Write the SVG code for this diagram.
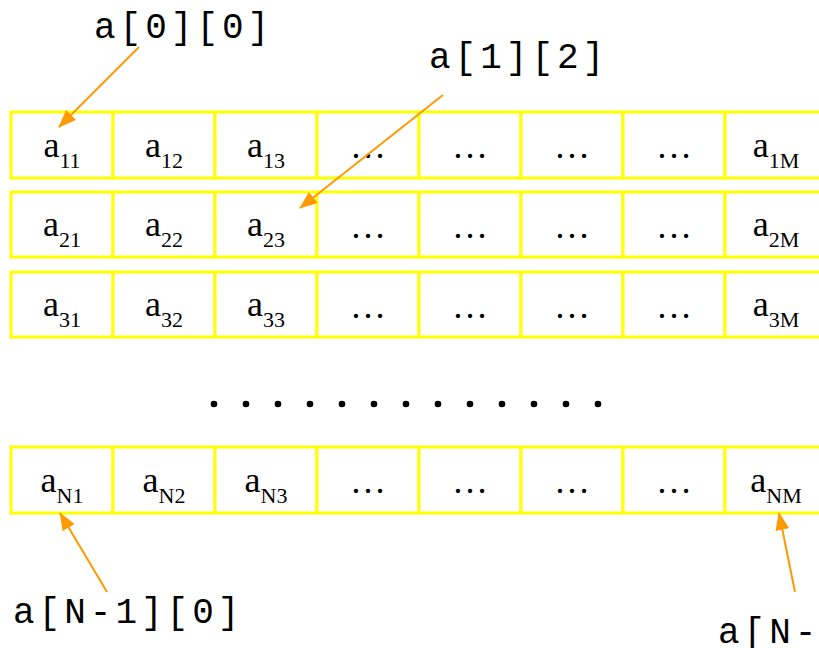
<svg xmlns="http://www.w3.org/2000/svg" width="819" height="648" viewBox="0 0 819 648">
  <style>
    .cell rect { fill: #FFFFFF; stroke: #FFFF00; stroke-width: 3; }
    .cell text { font-family: "Liberation Serif", "Times New Roman", serif; font-size: 36px; fill: #000000; text-anchor: middle; }
    .cell .sub { font-size: 22px; }
    .label { font-family: "Liberation Mono", "Courier New", monospace; font-size: 36px; letter-spacing: 4px; fill: #000000; }
    .arrow { stroke: #FF9900; stroke-width: 2; fill: none; marker-end: url(#head); }
    .dot { fill: #000000; }
  </style>
  <defs>
    <marker id="head" viewBox="0 0 18 14" refX="17" refY="7" markerWidth="18" markerHeight="14" markerUnits="userSpaceOnUse" orient="auto">
      <path d="M0,0 L18,7 L0,14 Z" fill="#FF9900"/>
    </marker>
  </defs>
  <rect width="819" height="648" fill="#FFFFFF"/>

  <!-- row 1 -->
  <g id="row1">
    <g id="cell-1-1" class="cell"><rect x="11" y="112" width="102" height="66"/><text x="62" y="156.5">a<tspan class="sub" dy="11">11</tspan></text></g>
    <g id="cell-1-2" class="cell"><rect x="113" y="112" width="102" height="66"/><text x="164" y="156.5">a<tspan class="sub" dy="11">12</tspan></text></g>
    <g id="cell-1-3" class="cell"><rect x="215" y="112" width="102" height="66"/><text x="266" y="156.5">a<tspan class="sub" dy="11">13</tspan></text></g>
    <g id="cell-1-4" class="cell"><rect x="317" y="112" width="102" height="66"/><text x="368" y="158">…</text></g>
    <g id="cell-1-5" class="cell"><rect x="419" y="112" width="102" height="66"/><text x="470" y="158">…</text></g>
    <g id="cell-1-6" class="cell"><rect x="521" y="112" width="102" height="66"/><text x="572" y="158">…</text></g>
    <g id="cell-1-7" class="cell"><rect x="623" y="112" width="102" height="66"/><text x="674" y="158">…</text></g>
    <g id="cell-1-M" class="cell"><rect x="725" y="112" width="102" height="66"/><text x="776" y="156.5">a<tspan class="sub" dy="11">1M</tspan></text></g>
  </g>

  <!-- row 2 -->
  <g id="row2">
    <g id="cell-2-1" class="cell"><rect x="11" y="192" width="102" height="65"/><text x="62" y="236">a<tspan class="sub" dy="11">21</tspan></text></g>
    <g id="cell-2-2" class="cell"><rect x="113" y="192" width="102" height="65"/><text x="164" y="236">a<tspan class="sub" dy="11">22</tspan></text></g>
    <g id="cell-2-3" class="cell"><rect x="215" y="192" width="102" height="65"/><text x="266" y="236">a<tspan class="sub" dy="11">23</tspan></text></g>
    <g id="cell-2-4" class="cell"><rect x="317" y="192" width="102" height="65"/><text x="368" y="238">…</text></g>
    <g id="cell-2-5" class="cell"><rect x="419" y="192" width="102" height="65"/><text x="470" y="238">…</text></g>
    <g id="cell-2-6" class="cell"><rect x="521" y="192" width="102" height="65"/><text x="572" y="238">…</text></g>
    <g id="cell-2-7" class="cell"><rect x="623" y="192" width="102" height="65"/><text x="674" y="238">…</text></g>
    <g id="cell-2-M" class="cell"><rect x="725" y="192" width="102" height="65"/><text x="776" y="236">a<tspan class="sub" dy="11">2M</tspan></text></g>
  </g>

  <!-- row 3 -->
  <g id="row3">
    <g id="cell-3-1" class="cell"><rect x="11" y="272" width="102" height="65"/><text x="62" y="316">a<tspan class="sub" dy="11">31</tspan></text></g>
    <g id="cell-3-2" class="cell"><rect x="113" y="272" width="102" height="65"/><text x="164" y="316">a<tspan class="sub" dy="11">32</tspan></text></g>
    <g id="cell-3-3" class="cell"><rect x="215" y="272" width="102" height="65"/><text x="266" y="316">a<tspan class="sub" dy="11">33</tspan></text></g>
    <g id="cell-3-4" class="cell"><rect x="317" y="272" width="102" height="65"/><text x="368" y="318">…</text></g>
    <g id="cell-3-5" class="cell"><rect x="419" y="272" width="102" height="65"/><text x="470" y="318">…</text></g>
    <g id="cell-3-6" class="cell"><rect x="521" y="272" width="102" height="65"/><text x="572" y="318">…</text></g>
    <g id="cell-3-7" class="cell"><rect x="623" y="272" width="102" height="65"/><text x="674" y="318">…</text></g>
    <g id="cell-3-M" class="cell"><rect x="725" y="272" width="102" height="65"/><text x="776" y="316">a<tspan class="sub" dy="11">3M</tspan></text></g>
  </g>

  <!-- vertical ellipsis between rows -->
  <g id="row-gap">
    <circle class="dot" cx="214" cy="404" r="3.3"/>
    <circle class="dot" cx="246" cy="404" r="3.3"/>
    <circle class="dot" cx="278" cy="404" r="3.3"/>
    <circle class="dot" cx="310" cy="404" r="3.3"/>
    <circle class="dot" cx="342" cy="404" r="3.3"/>
    <circle class="dot" cx="374" cy="404" r="3.3"/>
    <circle class="dot" cx="406" cy="404" r="3.3"/>
    <circle class="dot" cx="438" cy="404" r="3.3"/>
    <circle class="dot" cx="470" cy="404" r="3.3"/>
    <circle class="dot" cx="502" cy="404" r="3.3"/>
    <circle class="dot" cx="534" cy="404" r="3.3"/>
    <circle class="dot" cx="566" cy="404" r="3.3"/>
    <circle class="dot" cx="598" cy="404" r="3.3"/>
  </g>

  <!-- row N -->
  <g id="rowN">
    <g id="cell-N-1" class="cell"><rect x="11" y="447" width="102" height="66"/><text x="62" y="491.5">a<tspan class="sub" dy="11">N1</tspan></text></g>
    <g id="cell-N-2" class="cell"><rect x="113" y="447" width="102" height="66"/><text x="164" y="491.5">a<tspan class="sub" dy="11">N2</tspan></text></g>
    <g id="cell-N-3" class="cell"><rect x="215" y="447" width="102" height="66"/><text x="266" y="491.5">a<tspan class="sub" dy="11">N3</tspan></text></g>
    <g id="cell-N-4" class="cell"><rect x="317" y="447" width="102" height="66"/><text x="368" y="493">…</text></g>
    <g id="cell-N-5" class="cell"><rect x="419" y="447" width="102" height="66"/><text x="470" y="493">…</text></g>
    <g id="cell-N-6" class="cell"><rect x="521" y="447" width="102" height="66"/><text x="572" y="493">…</text></g>
    <g id="cell-N-7" class="cell"><rect x="623" y="447" width="102" height="66"/><text x="674" y="493">…</text></g>
    <g id="cell-N-M" class="cell"><rect x="725" y="447" width="102" height="66"/><text x="776" y="491.5">a<tspan class="sub" dy="11">NM</tspan></text></g>
  </g>

  <!-- index labels -->
  <g id="label-00"><text class="label" x="94" y="38">a[0][0]</text></g>
  <g id="label-12"><text class="label" x="429" y="68">a[1][2]</text></g>
  <g id="label-N0"><text class="label" x="13" y="623">a[N-1][0]</text></g>
  <g id="label-NM"><text class="label" x="718" y="643">a[N-</text></g>

  <!-- pointer arrows -->
  <g id="connectors">
    <line class="arrow" x1="139" y1="47" x2="59" y2="127"/>
    <line class="arrow" x1="443" y1="95" x2="300" y2="208"/>
    <line class="arrow" x1="107" y1="592" x2="60" y2="513"/>
    <line class="arrow" x1="795" y1="592" x2="779" y2="513"/>
  </g>
</svg>
